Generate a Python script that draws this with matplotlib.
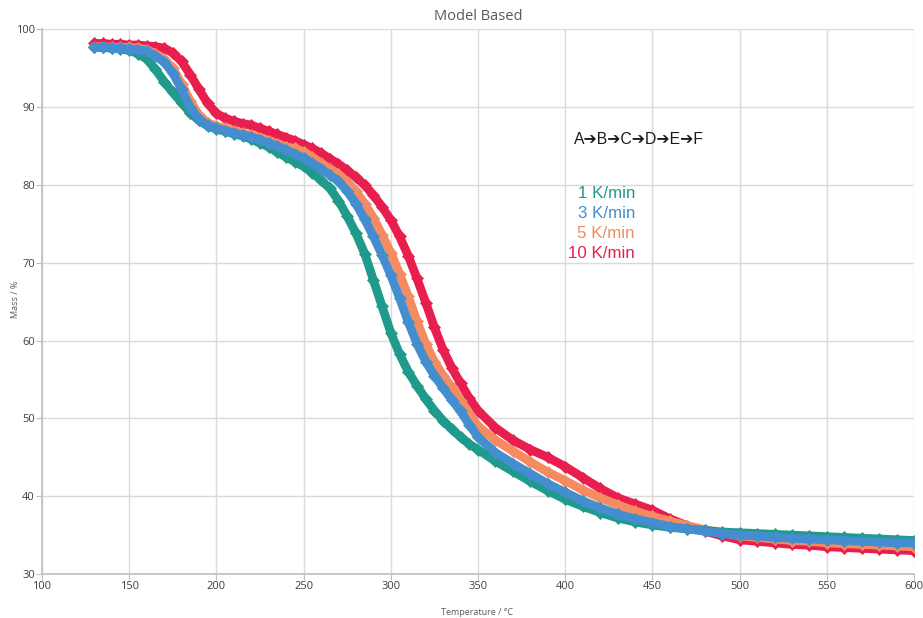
import matplotlib
matplotlib.use('Agg')
import matplotlib.pyplot as plt

# temperatures (degC) shared by all four runs
temp = [130, 135, 140, 145, 150, 155, 160, 165, 170, 175, 180, 185, 190, 195,
        200, 205, 210, 215, 220, 225, 230, 235, 240, 245, 250, 255, 260, 265,
        270, 275, 280, 285, 290, 295, 300, 305, 310, 315, 320, 325, 330, 335,
        340, 345, 350, 360, 370, 380, 390, 400, 410, 420, 430, 440, 450, 460,
        470, 480, 490, 500, 510, 520, 530, 540, 550, 560, 570, 580, 590, 600]

# mass (%)
mass_1 = [97.7, 97.7, 97.6, 97.5, 97.3, 96.9, 96.2, 94.9, 93.3, 91.9, 90.6, 89.3, 88.3, 87.6,
          87.2, 86.9, 86.6, 86.3, 85.9, 85.4, 84.9, 84.2, 83.6, 83.0, 82.4, 81.6, 80.6, 79.6,
          78.0, 76.0, 73.8, 71.2, 67.8, 64.4, 61.0, 58.3, 56.0, 54.2, 52.5, 51.0, 49.7, 48.6,
          47.6, 46.7, 46.0, 44.5, 43.2, 41.9, 40.7, 39.6, 38.7, 37.9, 37.2, 36.7, 36.3, 36.0,
          35.8, 35.6, 35.4, 35.3, 35.2, 35.1, 35.0, 34.9, 34.8, 34.7, 34.6, 34.5, 34.4, 34.3]
mass_3 = [97.7, 97.7, 97.6, 97.6, 97.5, 97.4, 97.2, 96.6, 95.8, 94.4, 92.3, 90.0, 88.5, 87.7,
          87.3, 87.0, 86.7, 86.4, 86.2, 85.8, 85.4, 85.0, 84.5, 84.0, 83.5, 82.8, 82.1, 81.3,
          80.5, 79.2, 77.6, 75.6, 73.4, 71.0, 68.4, 65.5, 62.4, 59.6, 57.3, 55.5, 53.9, 52.4,
          50.9, 49.2, 47.6, 45.6, 44.2, 42.9, 41.6, 40.5, 39.4, 38.5, 37.7, 37.1, 36.6, 36.1,
          35.8, 35.5, 35.2, 35.0, 34.9, 34.7, 34.6, 34.5, 34.4, 34.3, 34.2, 34.1, 34.0, 34.0]
mass_5 = [97.8, 97.8, 97.7, 97.7, 97.7, 97.6, 97.4, 96.9, 96.2, 95.0, 93.0, 90.8, 89.0, 88.0,
          87.6, 87.3, 87.0, 86.7, 86.4, 86.1, 85.7, 85.3, 84.9, 84.7, 84.3, 83.6, 82.8, 82.1,
          81.4, 80.4, 79.2, 77.6, 75.8, 73.6, 71.3, 68.6, 65.7, 62.5, 59.6, 57.3, 55.5, 54.0,
          52.3, 50.6, 49.0, 47.2, 45.8, 44.4, 43.1, 42.0, 40.8, 39.8, 38.9, 38.1, 37.4, 36.8,
          36.2, 35.7, 35.3, 34.9, 34.7, 34.5, 34.3, 34.2, 34.0, 33.9, 33.8, 33.7, 33.6, 33.5]
mass_10 = [98.2, 98.2, 98.1, 98.1, 98.0, 98.0, 97.9, 97.8, 97.6, 97.0, 95.9, 94.2, 92.3, 90.5,
           89.2, 88.6, 88.2, 87.9, 87.7, 87.3, 86.9, 86.5, 86.1, 85.7, 85.2, 84.7, 84.1, 83.4,
           82.7, 81.9, 81.0, 80.0, 78.7, 77.2, 75.5, 73.4, 70.9, 68.0, 64.9, 61.7, 58.8, 56.5,
           54.5, 52.6, 51.0, 48.8, 47.2, 46.0, 45.0, 43.8, 42.4, 41.0, 39.8, 39.0, 38.2, 37.1,
           36.2, 35.5, 34.9, 34.4, 34.2, 34.0, 33.8, 33.7, 33.5, 33.4, 33.3, 33.2, 33.1, 33.0]

rates = ['1 K/min', '3 K/min', '5 K/min', '10 K/min']
colors = ['#1f9a8b', '#448dcf', '#f58b60', '#e81f4e']
zorders = [4, 5, 3, 2]

fig = plt.figure(figsize=(9.23, 6.18), dpi=100)
ax = fig.add_axes([0.0455, 0.0712, 0.9448, 0.8811])

for m, c, z in zip([mass_1, mass_3, mass_5, mass_10], colors, zorders):
    ax.plot(temp, m, color=c, lw=6.3, marker='D', ms=6, mec=c, mew=0.5,
            solid_joinstyle='round', solid_capstyle='round', zorder=z)

ax.set_xlim(100, 600)
ax.set_ylim(30, 100)
ax.set_xticks(range(100, 601, 50))
ax.set_yticks(range(30, 101, 10))
ax.grid(True, color='#dadada', lw=1)
ax.set_axisbelow(True)
for s in ['top', 'right']:
    ax.spines[s].set_visible(False)
for s in ['left', 'bottom']:
    ax.spines[s].set_color('#bfbfbf')
    ax.spines[s].set_linewidth(1.2)
ax.tick_params(length=4, color='#bfbfbf', labelsize=8, labelcolor='#404040', pad=1)
for lab in ax.get_xticklabels() + ax.get_yticklabels():
    lab.set_family('Open Sans')

ax.set_title('Model Based', fontsize=10.5, color='#595959', family='Open Sans', pad=7)
fig.text(0.517, 0.001, 'Temperature / °C', fontsize=6.5, color='#595959',
         ha='center', va='bottom', family='Open Sans')
fig.text(0.017, 0.515, 'Mass / %', fontsize=6.5, color='#595959', rotation=90,
         ha='center', va='center', family='Open Sans')

ax.text(405, 85.8, 'A\u2794B\u2794C\u2794D\u2794E\u2794F', fontsize=11.3, color='#1a1a1a',
        ha='left', va='center', family=['Liberation Sans', 'DejaVu Sans'])
for i, (r, c) in enumerate(zip(rates, colors)):
    ax.text(440, 78.9 - 2.57 * i, r, fontsize=12.2, color=c, ha='right', va='center',
            family='Liberation Sans')

fig.savefig('out.png', dpi=100)
